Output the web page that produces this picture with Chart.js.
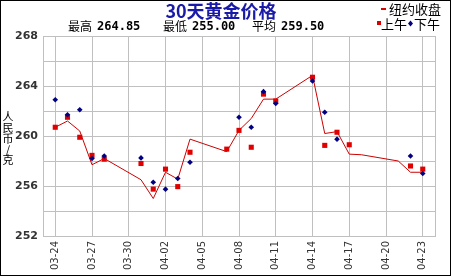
<!DOCTYPE html>
<html>
<head>
<meta charset="utf-8">
<script src="https://cdn.jsdelivr.net/npm/chart.js@4.4.1/dist/chart.umd.min.js"></script>
<style>
  html, body { margin: 0; padding: 0; background: #fff; }
  #wrap { position: relative; width: 452px; height: 277px; }
</style>
</head>
<body>
<div id="wrap"><canvas id="gold"></canvas></div>
<script>
// calendar days on the x axis (weekends have no quote)
const days = [
  '03-23', '03-24', '03-25', '03-26', '03-27', '03-28', '03-29', '03-30', '03-31',
  '04-01', '04-02', '04-03', '04-04', '04-05', '04-06', '04-07', '04-08', '04-09',
  '04-10', '04-11', '04-12', '04-13', '04-14', '04-15', '04-16', '04-17', '04-18',
  '04-19', '04-20', '04-21', '04-22', '04-23', '04-24'
];

// 纽约收盘
const nyClose = [
  null, 260.7, 261.2, 260.4, 257.7, 258.2, null, null, 256.5,
  255.0, 257.1, 256.55, 259.75, null, null, 258.75, 260.45, 261.4,
  262.95, 262.95, null, null, 264.85, 260.2, 260.35, 258.55, 258.5,
  null, null, 258.0, 257.1, 257.1, null
];

// 上午
const morning = [
  null, 260.7, 261.5, 259.9, 258.45, 258.15, null, null, 257.8,
  255.75, 257.35, 255.95, 258.7, null, null, 258.95, 260.45, 259.1,
  263.35, 262.8, null, null, 264.7, 259.25, 260.3, 259.3, null,
  null, null, null, 257.6, 257.35, null
];

// 下午
const afternoon = [
  null, 262.9, 261.7, 262.1, 258.2, 258.4, null, null, 258.25,
  256.3, 255.75, 256.6, 257.9, null, null, null, 261.5, 260.7,
  263.55, 262.6, null, null, 264.4, 261.9, 259.75, null, null,
  null, null, null, 258.4, 257.0, null
];

const yTicks = [252, 256, 260, 264, 268];
const stats = [['最高', '264.85'], ['最低', '255.00'], ['平均', '259.50']];

const GRID = '#c0c0c0';
const CJK = '"Noto Sans CJK SC", sans-serif';

// title, stats line, legend, stacked y title and the outer frame
const headerPlugin = {
  id: 'header',
  afterDraw(chart) {
    const ctx = chart.ctx;
    ctx.save();
    ctx.textBaseline = 'middle';

    ctx.fillStyle = '#1a1aa8';
    ctx.font = 'bold 18px ' + CJK;
    ctx.textAlign = 'center';
    ctx.fillText('30天黄金价格', 221, 11);

    ctx.textAlign = 'left';
    const statX = [68, 163, 252];
    stats.forEach(([label, val], i) => {
      ctx.fillStyle = '#000';
      ctx.font = '12px ' + CJK;
      ctx.fillText(label, statX[i], 26);
      const w = ctx.measureText(label).width;
      ctx.font = 'bold 12px "DejaVu Sans Mono", monospace';
      ctx.fillText(val, statX[i] + w + 5, 26.5);
    });

    // legend
    ctx.fillStyle = '#dd0000';
    ctx.fillRect(381, 8, 5, 2);
    ctx.fillStyle = '#000';
    ctx.font = '13px ' + CJK;
    ctx.fillText('纽约收盘', 389, 9);

    ctx.fillStyle = '#dd0000';
    ctx.fillRect(377, 21, 4, 4);
    ctx.fillStyle = '#000';
    ctx.font = '13px ' + CJK;
    ctx.fillText('上午', 381, 24);
    ctx.fillStyle = '#000080';
    ctx.beginPath();
    ctx.moveTo(410.5, 20.5);
    ctx.lineTo(413, 23.5);
    ctx.lineTo(410.5, 26.5);
    ctx.lineTo(408, 23.5);
    ctx.closePath();
    ctx.fill();
    ctx.fillStyle = '#000';
    ctx.fillText('下午', 414, 24);

    // y axis title, one character per line
    ctx.font = '11px ' + CJK;
    ctx.textAlign = 'center';
    const chars = ['人', '民', '币', '/', '克'];
    chars.forEach((c, i) => ctx.fillText(c, 8, 117 + i * 10.8));

    ctx.strokeStyle = '#000';
    ctx.lineWidth = 1;
    ctx.strokeRect(0.5, 0.5, 450, 275);
    ctx.restore();
  }
};

new Chart(document.getElementById('gold'), {
  type: 'line',
  data: {
    labels: days,
    datasets: [
      {
        label: '纽约收盘',
        data: nyClose,
        borderColor: '#cc0000',
        borderWidth: 1,
        pointRadius: 0,
        spanGaps: true,
        tension: 0,
        order: 3
      },
      {
        label: '上午',
        data: morning,
        showLine: false,
        pointStyle: 'rect',
        pointRadius: 3.6,
        pointBackgroundColor: '#e00000',
        pointBorderWidth: 0,
        order: 2
      },
      {
        label: '下午',
        data: afternoon,
        showLine: false,
        pointStyle: 'rectRot',
        pointRadius: 2.8,
        pointBackgroundColor: '#000080',
        pointBorderWidth: 0,
        order: 1
      }
    ]
  },
  options: {
    responsive: true,
    maintainAspectRatio: false,
    animation: false,
    events: [],
    layout: { padding: { top: 36, right: 6, bottom: 0, left: 0 } },
    plugins: {
      legend: { display: false },
      title: { display: false },
      tooltip: { enabled: false }
    },
    scales: {
      x: {
        type: 'category',
        offset: false,
        afterFit: (scale) => { scale.height = 41; },
        grid: {
          drawTicks: false,
          color: (c) => (c.index === 0 || c.index === days.length - 1 || (c.index - 1) % 3 === 0) ? GRID : 'rgba(0,0,0,0)'
        },
        border: { color: GRID },
        ticks: {
          autoSkip: false,
          maxRotation: 90,
          minRotation: 90,
          padding: 5,
          color: '#333',
          font: { family: '"DejaVu Sans", sans-serif', size: 10 },
          callback: (val, i) => ((i - 1) % 3 === 0 ? days[i] : '')
        }
      },
      y: {
        min: 252,
        max: 268,
        afterFit: (scale) => { scale.width = 43; },
        grid: { drawTicks: false, color: GRID },
        border: { color: GRID },
        ticks: {
          stepSize: 2,
          padding: 5,
          color: '#333',
          font: { family: '"DejaVu Sans", sans-serif', size: 11, weight: 'bold' },
          callback: (v) => (yTicks.includes(v) ? v : '')
        }
      }
    }
  },
  plugins: [headerPlugin]
});
</script>
</body>
</html>
